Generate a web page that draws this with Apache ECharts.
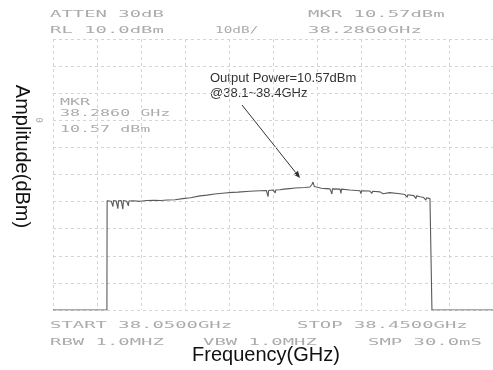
<!DOCTYPE html>
<html>
<head>
<meta charset="utf-8">
<script src="https://cdn.jsdelivr.net/npm/echarts@6/dist/echarts.min.js"></script>
<style>
html, body { margin: 0; padding: 0; background: #fff; }
#main { width: 493px; height: 370px; }
</style>
</head>
<body>
<div id="main"></div>
<script>
var chartDom = document.getElementById('main');
var myChart = echarts.init(chartDom, null, { renderer: 'canvas' });

// sweep settings (GHz / dBm)
const startFreq = 38.05;
const stopFreq = 38.45;
const refLevel = 10;
const floorLevel = -90;

// trace
const traceFreq = [
    38.0500, 38.0990, 38.0992, 38.1010, 38.1030, 38.1045, 38.1050, 38.1075, 38.1090, 38.1095,
    38.1120, 38.1135, 38.1140, 38.1170, 38.1185, 38.1190, 38.1230, 38.1290, 38.1350, 38.1420,
    38.1480, 38.1540, 38.1610, 38.1680, 38.1750, 38.1836, 38.1900, 38.1970, 38.2064, 38.2130,
    38.2180, 38.2291, 38.2380, 38.2440, 38.2455, 38.2460, 38.2500, 38.2520, 38.2525, 38.2560,
    38.2600, 38.2650, 38.2700, 38.2745, 38.2790, 38.2836, 38.2855, 38.2864, 38.2875, 38.2891,
    38.2940, 38.2980, 38.3018, 38.3036, 38.3040, 38.3109, 38.3118, 38.3122, 38.3200, 38.3290,
    38.3300, 38.3305, 38.3380, 38.3400, 38.3405, 38.3473, 38.3500, 38.3505, 38.3560, 38.3655,
    38.3700, 38.3720, 38.3725, 38.3780, 38.3800, 38.3805, 38.3836, 38.3870, 38.3890, 38.3895,
    38.3927, 38.3940, 38.3945, 38.4500
];
const traceLevel = [
    -90, -90, -49.7, -49.5, -49.9, -51.8, -49.6, -49.8, -52.6, -49.7,
    -49.6, -52.8, -49.6, -49.9, -51.6, -49.8, -49.7, -49.9, -49.6, -49.5,
    -49.6, -49.4, -49.3, -48.9, -48.6, -47.9, -47.6, -47.2, -46.8, -46.6,
    -46.5, -46.2, -46.0, -45.9, -48.2, -45.9, -45.7, -46.8, -45.7, -45.6,
    -45.4, -45.2, -45.0, -44.9, -44.8, -44.6, -43.6, -42.8, -44.4, -44.9,
    -45.1, -45.2, -45.3, -47.2, -45.3, -45.4, -47.0, -45.4, -45.7, -46.0,
    -47.1, -46.0, -46.1, -47.0, -46.2, -46.4, -47.1, -46.5, -46.7, -47.1,
    -47.4, -48.4, -47.5, -47.8, -48.9, -47.9, -48.2, -48.5, -49.5, -48.6,
    -48.9, -49.3, -90, -90
];
// marker readout
const markerFreq = 38.2860;
const markerLevel = 10.57;

// screen annotations
const topLeftLabels = ['ATTEN 30dB', 'RL 10.0dBm'];
const scaleLabel = '10dB/';
const topRightLabels = ['MKR ' + markerLevel + 'dBm', markerFreq.toFixed(4) + 'GHz'];
const markerLabels = ['MKR', markerFreq.toFixed(4) + ' GHz', markerLevel + ' dBm'];
const bottomLeftLabels = ['START 38.0500GHz', 'RBW 1.0MHZ'];
const vbwLabel = 'VBW 1.0MHZ';
const bottomRightLabels = ['STOP 38.4500GHz', 'SMP 30.0mS'];
const noteLines = ['Output Power=10.57dBm', '@38.1~38.4GHz'];

// axis counted in MHz from the start frequency
const toAxis = f => (f - startFreq) * 1000;
const traceData = traceFreq.map((f, i) => [toAxis(f), traceLevel[i]]);

const screenFont = '9px "DejaVu Sans Mono"';
const screenColor = '#ababab';
function screenText(text, x, y, sx) {
    return {
        type: 'text', x: x, y: y, scaleX: sx || 2.1,
        style: { text: text, font: screenFont, fill: screenColor, textVerticalAlign: 'middle' }
    };
}

const gridLine = { show: true, lineStyle: { color: '#d4d4d4', width: 1, type: [3, 3] } };

option = {
    animation: false,
    backgroundColor: '#fff',
    grid: { left: 53, right: 0, top: 39, bottom: 58 },
    xAxis: {
        type: 'value',
        min: 0,
        max: toAxis(stopFreq),
        interval: 40,
        name: 'Frequency(GHz)',
        nameLocation: 'middle',
        nameGap: 35,
        nameTextStyle: { fontFamily: 'Liberation Sans', fontSize: 20, color: '#111', padding: [0, 14, 0, 0] },
        axisLine: { show: false },
        axisTick: { show: false },
        axisLabel: { show: false },
        splitLine: gridLine
    },
    yAxis: {
        type: 'value',
        min: floorLevel,
        max: refLevel,
        interval: 10,
        name: 'Amplitude(dBm)',
        nameLocation: 'middle',
        nameRotate: -90,
        nameGap: 21,
        nameTextStyle: { fontFamily: 'Liberation Sans', fontSize: 20, color: '#111', padding: [0, 36, 0, 0] },
        axisLine: { show: false },
        axisTick: { show: false },
        axisLabel: { show: false },
        splitLine: gridLine
    },
    series: [
        {
            type: 'line',
            data: traceData,
            showSymbol: false,
            lineStyle: { color: '#5a5a5a', width: 1.1 },
            z: 3
        }
    ],
    graphic: []
};

const g = option.graphic;
g.push(screenText(topLeftLabels[0], 50, 15));
g.push(screenText(topLeftLabels[1], 50, 31));
g.push(screenText(scaleLabel, 215, 31, 1.6));
g.push(screenText(topRightLabels[0], 308, 15));
g.push(screenText(topRightLabels[1], 308, 31));
g.push(screenText(markerLabels[0], 60, 103, 1.85));
g.push(screenText(markerLabels[1], 60, 114, 1.85));
g.push(screenText(markerLabels[2], 60, 130, 1.85));
g.push(screenText(bottomLeftLabels[0], 50, 326));
g.push(screenText(bottomLeftLabels[1], 50, 343));
g.push(screenText(vbwLabel, 203, 343));
g.push(screenText(bottomRightLabels[0], 297, 326));
g.push(screenText(bottomRightLabels[1], 368, 343));
g.push({
    type: 'text', x: 41, y: 120, rotation: Math.PI / 2,
    style: { text: '0', font: screenFont, fill: screenColor, textAlign: 'center', textVerticalAlign: 'middle' }
});
g.push({
    type: 'text', x: 210, y: 78,
    style: { text: noteLines[0], font: '13px "Liberation Sans"', fill: '#333', textVerticalAlign: 'middle' }
});
g.push({
    type: 'text', x: 210, y: 93,
    style: { text: noteLines[1], font: '13px "Liberation Sans"', fill: '#333', textVerticalAlign: 'middle' }
});

// arrow from the note to the trace peak
const sx = 242, sy = 105, ex = 300, ey = 178;
const len = Math.hypot(ex - sx, ey - sy);
const dx = (ex - sx) / len, dy = (ey - sy) / len;
const bx = ex - 7 * dx, by = ey - 7 * dy;
g.push({
    type: 'line',
    shape: { x1: sx, y1: sy, x2: bx, y2: by },
    style: { stroke: '#333', lineWidth: 1 }
});
g.push({
    type: 'polygon',
    shape: { points: [[ex, ey], [bx - 3 * dy, by + 3 * dx], [bx + 3 * dy, by - 3 * dx]] },
    style: { fill: '#333' }
});

option && myChart.setOption(option);
</script>
</body>
</html>
